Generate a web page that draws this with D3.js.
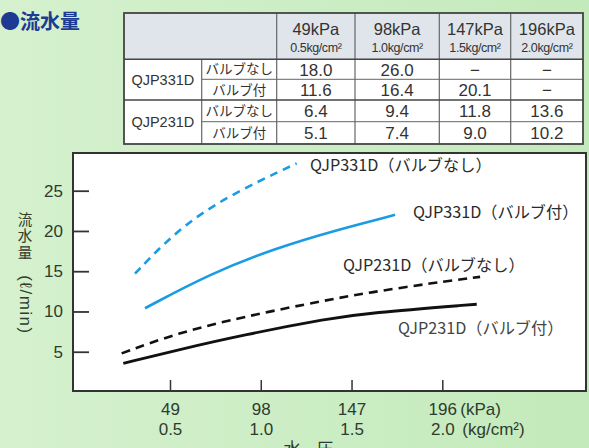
<!DOCTYPE html>
<html><head><meta charset="utf-8">
<script src="https://cdn.jsdelivr.net/npm/d3@7"></script>
<style>
html,body{margin:0;padding:0;}
svg{display:block;font-family:"Liberation Sans",Arial,"Noto Sans CJK JP",sans-serif;}
</style></head>
<body>
<svg id="c" width="589" height="448"></svg>
<script>
// ---- data ----
const pressureKPa = ["49kPa", "98kPa", "147kPa", "196kPa"];
const pressureKg = ["0.5kg/cm²", "1.0kg/cm²", "1.5kg/cm²", "2.0kg/cm²"];
const models = ["QJP331D", "QJP231D"];
const valves = ["バルブなし", "バルブ付"];
const tableRows = [
  ["18.0", "26.0", "−", "−"],
  ["11.6", "16.4", "20.1", "−"],
  ["6.4", "9.4", "11.8", "13.6"],
  ["5.1", "7.4", "9.0", "10.2"]
];
const xTicks = [49, 98, 147, 196];
const xTickKg = ["0.5", "1.0", "1.5", "2.0"];
const yTicks = [5, 10, 15, 20, 25];
// curves: [kPa, L/min]
const s331nashi = [[30.1, 14.7], [52.6, 20.1], [79.6, 24.3], [117.4, 28.4]];
const s331tsuki = [[35.5, 10.4], [70.6, 14.7], [106.6, 17.9], [135.4, 19.9], [170.5, 22.0]];
const s231nashi = [[22.9, 4.8], [52.6, 7.3], [88.6, 9.35], [135.4, 11.5], [155.2, 12.3], [191, 13.55], [216.4, 14.3]];
const s231tsuki = [[23.8, 3.55], [52.6, 5.2], [88.6, 7.1], [135.4, 9.15], [155.2, 9.8], [214.6, 10.9]];
const seriesNames = ["QJP331D（バルブなし）", "QJP331D（バルブ付）", "QJP231D（バルブなし）", "QJP231D（バルブ付）"];

const svg = d3.select("#c");
// background
const defs = svg.append("defs");
const g0 = defs.append("linearGradient").attr("id", "bg").attr("x1", "0").attr("x2", "1").attr("y1", "0").attr("y2", "0");
g0.append("stop").attr("offset", "0").attr("stop-color", "#d5f1ce");
g0.append("stop").attr("offset", "1").attr("stop-color", "#c3eabb");
svg.append("rect").attr("width", 589).attr("height", 448).attr("fill", "url(#bg)");

// title
svg.append("text").attr("x", 0).attr("y", 29).attr("font-size", 20).attr("font-weight", "bold")
  .attr("fill", "#1d3b92").attr("font-family", "'Noto Sans CJK JP',sans-serif").text("●流水量");

// ---- table ----
const tX = [124, 201.7, 276.7, 355, 439.3, 510.7, 583];
const tY = [13, 59.3, 79.3, 100, 121.7, 144];
const tg = svg.append("g");
tg.append("rect").attr("x", tX[0]).attr("y", tY[0]).attr("width", tX[6] - tX[0]).attr("height", tY[5] - tY[0]).attr("fill", "#fff");
tg.append("rect").attr("x", tX[0]).attr("y", tY[0]).attr("width", tX[6] - tX[0]).attr("height", tY[1] - tY[0]).attr("fill", "#dfe5ea");
const lineC = "#666";
[2, 3, 4, 5].forEach(i => tg.append("line").attr("x1", tX[i]).attr("x2", tX[i]).attr("y1", tY[0]).attr("y2", tY[5]).attr("stroke", lineC).attr("stroke-width", 1.2));
tg.append("line").attr("x1", tX[1]).attr("x2", tX[1]).attr("y1", tY[1]).attr("y2", tY[5]).attr("stroke", lineC).attr("stroke-width", 1.2);
tg.append("line").attr("x1", tX[0]).attr("x2", tX[6]).attr("y1", tY[1]).attr("y2", tY[1]).attr("stroke", "#444").attr("stroke-width", 1.5);
tg.append("line").attr("x1", tX[0]).attr("x2", tX[6]).attr("y1", tY[3]).attr("y2", tY[3]).attr("stroke", "#444").attr("stroke-width", 1.5);
[2, 4].forEach(i => tg.append("line").attr("x1", tX[1]).attr("x2", tX[6]).attr("y1", tY[i]).attr("y2", tY[i]).attr("stroke", lineC).attr("stroke-width", 1));
tg.append("rect").attr("x", tX[0]).attr("y", tY[0]).attr("width", tX[6] - tX[0]).attr("height", tY[5] - tY[0])
  .attr("fill", "none").attr("stroke", "#444").attr("stroke-width", 1.8);
const tc = "#333";
pressureKPa.forEach((p, i) => {
  const cx = (tX[i + 2] + tX[i + 3]) / 2;
  tg.append("text").attr("x", cx).attr("y", 35).attr("text-anchor", "middle").attr("font-size", 16.5).attr("fill", tc).text(p);
  tg.append("text").attr("x", cx).attr("y", 52).attr("text-anchor", "middle").attr("font-size", 12.5)
    .attr("letter-spacing", -0.4).attr("fill", tc).text(pressureKg[i]);
});
models.forEach((m, i) => {
  tg.append("text").attr("x", (tX[0] + tX[1]) / 2).attr("y", (tY[1 + 2 * i] + tY[3 + 2 * i]) / 2 + 5)
    .attr("text-anchor", "middle").attr("font-size", 14.5).attr("fill", tc).text(m);
});
tableRows.forEach((row, r) => {
  const cy = (tY[r + 1] + tY[r + 2]) / 2 + 5;
  tg.append("text").attr("x", (tX[1] + tX[2]) / 2).attr("y", cy).attr("text-anchor", "middle")
    .attr("font-size", 13.5).attr("fill", tc).attr("font-family", "'Noto Sans CJK JP',sans-serif").text(valves[r % 2]);
  row.forEach((v, c) => {
    tg.append("text").attr("x", (tX[c + 2] + tX[c + 3]) / 2).attr("y", cy + 1.5).attr("text-anchor", "middle")
      .attr("font-size", 17).attr("fill", tc).text(v);
  });
});

// ---- chart ----
const L = 73, R = 586, T = 153, B = 391;
const x = d3.scaleLinear().domain([49, 196]).range([170, 442.3]);
const y = d3.scaleLinear().domain([0, 25]).range([392, 190.7]);
svg.append("rect").attr("x", L).attr("y", T).attr("width", R - L).attr("height", B - T).attr("fill", "#fff");

const axisColor = "#2e3b2e";
const ya = svg.append("g").attr("transform", `translate(${L},0)`)
  .call(d3.axisLeft(y).tickValues(yTicks).tickSize(-16).tickPadding(10));
ya.select(".domain").remove();
ya.selectAll("line").attr("stroke", "#333").attr("stroke-width", 1.8);
ya.selectAll("text").attr("font-size", 17).attr("fill", axisColor).attr("font-family", "'Liberation Sans',Arial,sans-serif");

const xa = svg.append("g").attr("transform", `translate(0,${B})`)
  .call(d3.axisBottom(x).tickValues(xTicks).tickSize(-11).tickPadding(0));
xa.select(".domain").remove();
xa.selectAll("line").attr("stroke", "#333").attr("stroke-width", 1.5);
xa.selectAll("text").attr("font-size", 17).attr("fill", axisColor).attr("font-family", "'Liberation Sans',Arial,sans-serif")
  .attr("dy", null).attr("y", 0)
  .each(function (d, i) {
    const t = d3.select(this); t.text(null);
    t.append("tspan").attr("x", 0).attr("y", 24).text(d);
    t.append("tspan").attr("x", 0).attr("y", 44).text(xTickKg[i]);
  });
svg.append("text").attr("x", x(196) + 18).attr("y", B + 24).attr("font-size", 17).attr("fill", axisColor).text("(kPa)");
svg.append("text").attr("x", x(196) + 20).attr("y", B + 44).attr("font-size", 17).attr("fill", axisColor).text("(kg/cm²)");
svg.append("text").attr("x", 292).attr("y", 455).attr("text-anchor", "middle").attr("font-size", 17).attr("fill", axisColor)
  .attr("font-family", "'Noto Sans CJK JP',sans-serif").text("水");
svg.append("text").attr("x", 325).attr("y", 455).attr("text-anchor", "middle").attr("font-size", 17).attr("fill", axisColor)
  .attr("font-family", "'Noto Sans CJK JP',sans-serif").text("圧");

// y label
svg.append("text").attr("x", 25).attr("y", 212).attr("font-size", 14.5).attr("letter-spacing", 2)
  .attr("style", "writing-mode: vertical-rl;")
  .attr("fill", axisColor).attr("font-family", "'Noto Sans CJK JP',sans-serif").text("流水量");
svg.append("text").attr("transform", "translate(20,305) rotate(90)").attr("text-anchor", "middle")
  .attr("font-size", 17).attr("letter-spacing", 1.5).attr("fill", axisColor).text("(ℓ/min)");

// frame
svg.append("rect").attr("x", L).attr("y", T).attr("width", R - L).attr("height", B - T)
  .attr("fill", "none").attr("stroke", "#333").attr("stroke-width", 2);

const line = d3.line().x(d => x(d[0])).y(d => y(d[1])).curve(d3.curveBasis);
const blue = "#1a9ce2";
const series = [
  { data: s331nashi, color: blue, dash: "8,6", w: 2.6 },
  { data: s331tsuki, color: blue, dash: null, w: 2.6 },
  { data: s231nashi, color: "#111", dash: "9,6", w: 2.6 },
  { data: s231tsuki, color: "#111", dash: null, w: 2.8 }
];
series.forEach(s => {
  svg.append("path").datum(s.data).attr("d", line).attr("fill", "none").attr("stroke", s.color)
    .attr("stroke-width", s.w).attr("stroke-dasharray", s.dash);
});
// series labels
const labPos = [[310, 171], [413, 218], [343, 271], [398, 334]];
seriesNames.forEach((n, i) => {
  svg.append("text").attr("x", labPos[i][0]).attr("y", labPos[i][1]).attr("font-size", 16.2)
    .attr("fill", i === 3 ? "#444" : "#2a2a2a").attr("font-family", "'Noto Sans CJK JP',sans-serif").text(n);
});
</script>
</body></html>
